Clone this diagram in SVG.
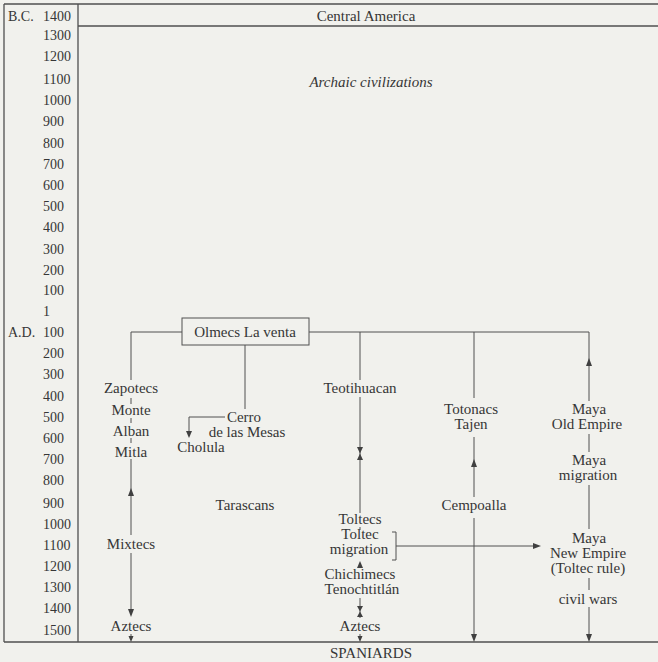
<svg xmlns="http://www.w3.org/2000/svg" width="658" height="662" viewBox="0 0 658 662">
<style>
text{font-family:"Liberation Serif","Times New Roman",serif;fill:#363636;font-size:15px;text-anchor:middle}
.ax{font-size:14px;text-anchor:start}
.it{font-style:italic}
.ln{fill:none;stroke:#505050;stroke-width:1}
.fr{fill:none;stroke:#505050;stroke-width:1.3}
.ah{fill:#404040;stroke:none}
</style>
<rect width="658" height="662" fill="#f1f1ed"/>
<g id="frame">
<path class="fr" d="M4 4H658M4 4V642M78 4V642M78 26H658M4 642H658"/>
</g>
<g id="axis">
<text class="ax" x="8" y="21">B.C.</text>
<text class="ax" x="43" y="21">1400</text>
<text class="ax" x="43" y="40">1300</text>
<text class="ax" x="43" y="61">1200</text>
<text class="ax" x="43" y="84">1100</text>
<text class="ax" x="43" y="105">1000</text>
<text class="ax" x="43" y="126">900</text>
<text class="ax" x="43" y="148">800</text>
<text class="ax" x="43" y="169">700</text>
<text class="ax" x="43" y="190">600</text>
<text class="ax" x="43" y="211">500</text>
<text class="ax" x="43" y="232">400</text>
<text class="ax" x="43" y="254">300</text>
<text class="ax" x="43" y="275">200</text>
<text class="ax" x="43" y="295">100</text>
<text class="ax" x="43" y="316">1</text>
<text class="ax" x="8" y="337">A.D.</text>
<text class="ax" x="43" y="337">100</text>
<text class="ax" x="43" y="358">200</text>
<text class="ax" x="43" y="379">300</text>
<text class="ax" x="43" y="401">400</text>
<text class="ax" x="43" y="422">500</text>
<text class="ax" x="43" y="443">600</text>
<text class="ax" x="43" y="464">700</text>
<text class="ax" x="43" y="485">800</text>
<text class="ax" x="43" y="508">900</text>
<text class="ax" x="43" y="529">1000</text>
<text class="ax" x="43" y="550">1100</text>
<text class="ax" x="43" y="571">1200</text>
<text class="ax" x="43" y="592">1300</text>
<text class="ax" x="43" y="613">1400</text>
<text class="ax" x="43" y="635">1500</text>
</g>
<g id="central-america"><text x="366" y="21">Central America</text></g>
<g id="archaic"><text class="it" x="371" y="87">Archaic civilizations</text></g>
<g id="connectors">
<path class="ln" d="M131 332H182M309 332H589"/>
<path class="ln" d="M131 332V380M131 398V404M131 418V423M131 438V443M131 459V535M131 553V612M131 634V640"/>
<polygon class="ah" points="131,488 128,496 134,496"/>
<polygon class="ah" points="131,617 128,609 134,609"/>
<polygon class="ah" points="131,642 128.5,636 133.5,636"/>
<path class="ln" d="M245 345V409M225 417H189V432"/>
<polygon class="ah" points="189,438 186,431 192,431"/>
<path class="ln" d="M360 332V380M360 397V513M360 527V530M360 598V618M360 634V640"/>
<polygon class="ah" points="357,447 363,447 360,453.5"/>
<polygon class="ah" points="357,460 363,460 360,453.5"/>
<polygon class="ah" points="360,561 357,568 363,568"/>
<polygon class="ah" points="357,606 363,606 360,611.5"/>
<polygon class="ah" points="357,617 363,617 360,611.5"/>
<polygon class="ah" points="360,642 357.5,636 362.5,636"/>
<path class="ln" d="M392 532H396V560H392M396 546H534"/>
<polygon class="ah" points="541,546 533,543 533,549"/>
<path class="ln" d="M474 332V398M474 437V497M474 518V636"/>
<polygon class="ah" points="474,459 471,467 477,467"/>
<polygon class="ah" points="474,642 471,634 477,634"/>
<path class="ln" d="M589 332V401M589 434V452M589 485V529M589 578V590M589 607V636"/>
<polygon class="ah" points="589,358 586,366 592,366"/>
<polygon class="ah" points="589,642 586,634 592,634"/>
</g>
<g id="olmecs">
<rect class="ln" x="182" y="318" width="127" height="27"/>
<text x="245" y="337">Olmecs La venta</text>
</g>
<g id="zapotecs"><text x="131" y="393">Zapotecs</text></g>
<g id="monte"><text x="131" y="415">Monte</text></g>
<g id="alban"><text x="131" y="436">Alban</text></g>
<g id="mitla"><text x="131" y="457">Mitla</text></g>
<g id="mixtecs"><text x="131" y="549">Mixtecs</text></g>
<g id="aztecs-1"><text x="131" y="631">Aztecs</text></g>
<g id="cerro"><text x="244" y="422">Cerro</text><text x="247" y="437">de las Mesas</text></g>
<g id="cholula"><text x="201" y="452">Cholula</text></g>
<g id="tarascans"><text x="245" y="510">Tarascans</text></g>
<g id="teotihuacan"><text x="360" y="393">Teotihuacan</text></g>
<g id="toltecs"><text x="360" y="524">Toltecs</text></g>
<g id="toltec-migration"><text x="360" y="539">Toltec</text><text x="359" y="554">migration</text></g>
<g id="chichimecs"><text x="360" y="579">Chichimecs</text><text x="362" y="594">Tenochtitlán</text></g>
<g id="aztecs-2"><text x="360" y="631">Aztecs</text></g>
<g id="totonacs"><text x="471" y="414">Totonacs</text><text x="471" y="429">Tajen</text></g>
<g id="cempoalla"><text x="474" y="510">Cempoalla</text></g>
<g id="maya-old"><text x="589" y="414">Maya</text><text x="587" y="429">Old Empire</text></g>
<g id="maya-migration"><text x="589" y="465">Maya</text><text x="588" y="480">migration</text></g>
<g id="maya-new"><text x="589" y="543">Maya</text><text x="588" y="558">New Empire</text><text x="588" y="573">(Toltec rule)</text></g>
<g id="civil-wars"><text x="588" y="604">civil wars</text></g>
<g id="spaniards"><text x="371" y="658">SPANIARDS</text></g>
</svg>
